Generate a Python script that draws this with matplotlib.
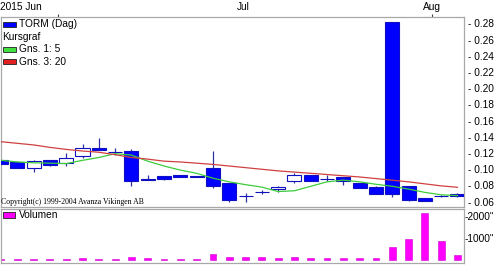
import matplotlib
matplotlib.use('Agg')
import matplotlib.pyplot as plt
import matplotlib.transforms as mtransforms
from matplotlib.patches import Rectangle

# ---------------- data ----------------
opens  = [0.112, 0.109, 0.102, 0.111, 0.108, 0.116, 0.126, 0.1215, 0.1224, 0.088,
          0.0915, 0.0925, 0.092, 0.101, 0.0825, 0.067, 0.0715, 0.0757, 0.0857, 0.0925,
          0.088, 0.0905, 0.0825, 0.0776, 0.281, 0.0795, 0.0645, 0.0668, 0.070]
highs  = [0.112, 0.110, 0.111, 0.112, 0.120, 0.131, 0.138, 0.1265, 0.1245, 0.0925,
          0.0915, 0.0925, 0.092, 0.123, 0.0825, 0.0705, 0.0742, 0.0795, 0.0956, 0.0935,
          0.0925, 0.091, 0.0835, 0.0795, 0.281, 0.0795, 0.0645, 0.0685, 0.0705]
lows   = [0.106, 0.101, 0.097, 0.104, 0.104, 0.114, 0.124, 0.118, 0.0792, 0.0865,
          0.087, 0.090, 0.0903, 0.077, 0.0592, 0.0595, 0.0695, 0.0715, 0.0835, 0.0857,
          0.0857, 0.081, 0.0763, 0.069, 0.066, 0.0605, 0.0607, 0.0655, 0.066]
closes = [0.106, 0.102, 0.110, 0.105, 0.114, 0.126, 0.124, 0.1215, 0.0853, 0.0865,
          0.0885, 0.090, 0.0905, 0.079, 0.0627, 0.067, 0.072, 0.0783, 0.0925, 0.0857,
          0.088, 0.085, 0.0763, 0.069, 0.069, 0.0625, 0.0607, 0.0668, 0.0668]
ma5    = [0.111, 0.109, 0.108, 0.1075, 0.107, 0.111, 0.1145, 0.1192, 0.1175, 0.110,
          0.104, 0.099, 0.095, 0.089, 0.0845, 0.081, 0.078, 0.0725, 0.0735, 0.079,
          0.0845, 0.0866, 0.0845, 0.0815, 0.079, 0.0755, 0.0715, 0.0685, 0.0675]
ma20   = [0.134, 0.132, 0.130, 0.127, 0.1245, 0.1225, 0.121, 0.118, 0.1145, 0.1125,
          0.110, 0.109, 0.1075, 0.106, 0.104, 0.102, 0.100, 0.098, 0.0965, 0.095,
          0.0935, 0.092, 0.0905, 0.0885, 0.0865, 0.0845, 0.082, 0.0795, 0.0778]
volume = [60, 60, 60, 60, 60, 100, 60, 60, 130, 100,
          60, 60, 60, 280, 160, 130, 130, 100, 160, 100,
          100, 100, 100, 100, 610, 930, 2120, 850, 240]
price_ticks = [0.06, 0.08, 0.10, 0.12, 0.14, 0.16, 0.18, 0.20, 0.22, 0.24, 0.26, 0.28]
vol_ticks = [1000, 2000]
vol_tick_labels = ['-1000"', '-2000"']
month_labels = ['2015 Jun', 'Jul', 'Aug']
month_label_pos = [-0.03, 14.85, 26.45]
month_label_align = ['left', 'center', 'center']
month_tick_pos = [3.5, 26.45]
legend_labels = ['TORM (Dag)', 'Kursgraf', 'Gns. 1: 5', 'Gns. 3: 20']
volume_label = 'Volumen'
copyright_text = 'Copyright(c) 1999-2004 Avanza Vikingen AB'

# ---------------- styles ----------------
W, H = 500, 266
FONT = 'Liberation Sans'
FS = 7.3
BLUE = '#0000ff'
EDGE = '#1010c0'
WICK = '#3030a0'
GREEN = '#3ccc3c'
RED = '#d04040'
MAG = '#ff00ff'
SPINE = '#a8a8a8'

fig = plt.figure(figsize=(W / 100, H / 100), dpi=100)
fig.patch.set_facecolor('white')

def fx(x):
    return x / W

def fy(y):
    return 1 - y / H

ax = fig.add_axes([fx(0.5), fy(207), fx(464) - fx(0.5), fy(17) - fy(207)])
axv = fig.add_axes([fx(0.5), fy(262.5), fx(464) - fx(0.5), fy(208.5) - fy(262.5)])

n = len(opens)
xs = list(range(n))
xl = (-0.03, 28.4)

# candles
for i in xs:
    o, h, l, c = opens[i], highs[i], lows[i], closes[i]
    ax.vlines(i, l, h, color=WICK, lw=0.9, zorder=2)
    lo, hi = min(o, c), max(o, c)
    face = BLUE if c < o else 'white'
    ax.bar(i, hi - lo, bottom=lo, width=0.86, color=face, edgecolor=EDGE,
           linewidth=0.8, zorder=3)

ax.plot(xs, ma5, color=GREEN, lw=0.9, zorder=4)
ax.plot(xs, ma20, color=RED, lw=0.9, zorder=4)

ax.set_xlim(*xl)
ax.set_ylim(0.05346, 0.28778)

ax.yaxis.tick_right()
ax.set_yticks(price_ticks)
ax.set_yticklabels(['- %.2f' % t for t in price_ticks], fontsize=FS, family=FONT)
ax.tick_params(axis='y', length=0, pad=3.0, colors='black')

ax.xaxis.tick_top()
ax.set_xticks(month_tick_pos)
ax.set_xticklabels([''] * len(month_tick_pos))
ax.tick_params(axis='x', length=2.4, width=0.8, color='#404040', direction='out')

for s in ax.spines.values():
    s.set_color(SPINE)
    s.set_linewidth(0.9)

trans = mtransforms.blended_transform_factory(ax.transData, fig.transFigure)
for lab, pos, al in zip(month_labels, month_label_pos, month_label_align):
    ax.text(pos, fy(7), lab, transform=trans, ha=al, va='center',
            fontsize=FS, family=FONT, clip_on=False)

# volume
axv.bar(xs, volume, width=0.42, color=MAG, edgecolor='#d000d0', linewidth=0.4)
axv.set_xlim(*xl)
axv.set_ylim(-103, 2318)
axv.set_xticks([])
axv.yaxis.tick_right()
axv.set_yticks(vol_ticks)
axv.set_yticklabels(vol_tick_labels, fontsize=FS, family=FONT)
axv.tick_params(axis='y', length=0, pad=0.5)
for s in axv.spines.values():
    s.set_color(SPINE)
    s.set_linewidth(0.9)

# legend block (price)
sw_colors = [BLUE, None, '#40e040', '#e02020']
ys = [24.3, 36.7, 49.4, 61.6]
for lab, col, y in zip(legend_labels, sw_colors, ys):
    if col is None:
        fig.text(fx(2), fy(y), lab, ha='left', va='center', fontsize=FS, family=FONT)
    else:
        fig.add_artist(Rectangle((fx(3.3), fy(y + 2.6)), fx(13), 5.2 / H,
                                 transform=fig.transFigure, facecolor=col,
                                 edgecolor='#202020', linewidth=0.6))
        fig.text(fx(19), fy(y), lab, ha='left', va='center', fontsize=FS, family=FONT)

fig.add_artist(Rectangle((fx(3.3), fy(217.5)), fx(12), 5.2 / H,
                         transform=fig.transFigure, facecolor=MAG,
                         edgecolor='#202020', linewidth=0.6))
fig.text(fx(19), fy(215.5), volume_label, ha='left', va='center', fontsize=FS, family=FONT)

fig.text(fx(1), fy(202), copyright_text, ha='left', va='center',
         fontsize=5.6, family='Liberation Serif')

fig.savefig('out.png', dpi=100, facecolor='white')
